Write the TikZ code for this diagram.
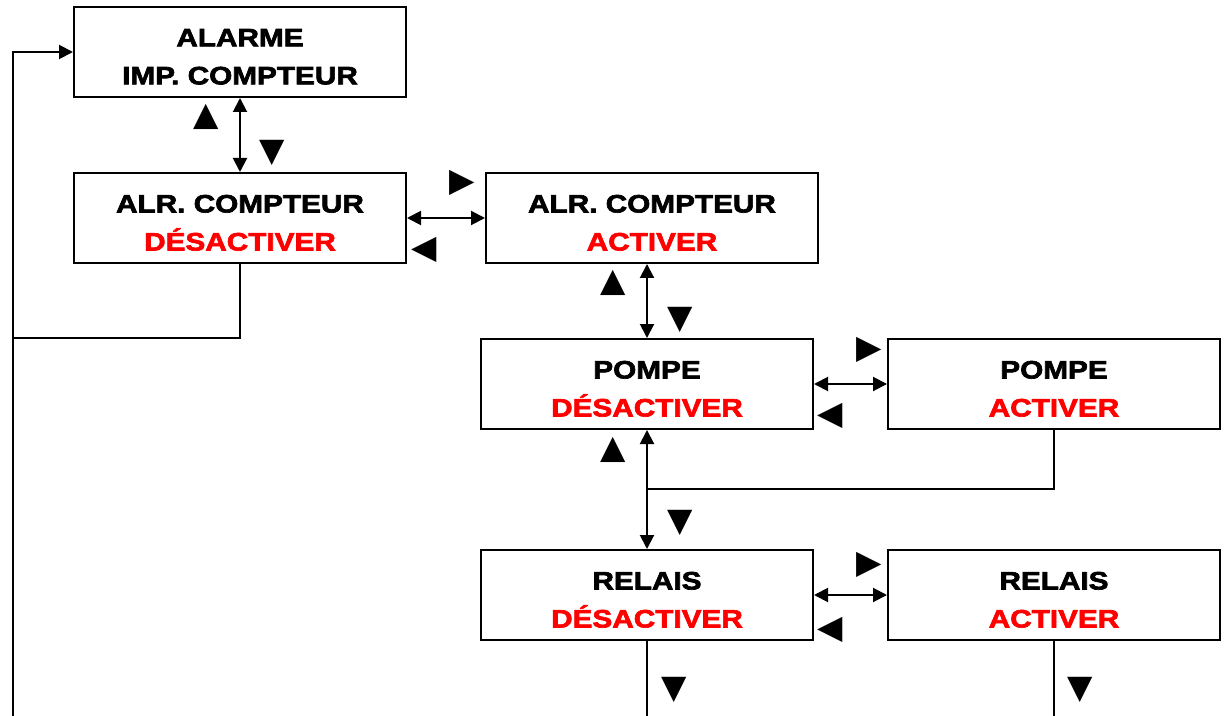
\documentclass[tikz,border=0pt]{standalone}
\usepackage{fontspec}
\setmainfont{Liberation Sans}[FakeStretch=1.18,BoldFeatures={FakeBold=2.6}]
\newfontfamily\symfont{DejaVu Sans}
\usetikzlibrary{arrows.meta,positioning,calc}
\definecolor{AlertRed}{HTML}{FF0000}

\begin{document}
\begin{tikzpicture}[
  x=0.5pt,y=-0.5pt,
  menu/.style={draw=black,line width=1pt,minimum width=166pt,minimum height=45pt,inner sep=0pt},
  menutext/.style={align=center,font=\bfseries\fontsize{12.6}{19}\selectfont,inner sep=0pt,yshift=-2.4pt},
  link/.style={line width=1pt,draw=black},
  arr/.style={link,-{Triangle[length=7pt,width=7pt]}},
  dbl/.style={link,{Triangle[length=7pt,width=7pt]}-{Triangle[length=7pt,width=7pt]}},
  key/.style={font=\symfont\fontsize{16.5}{16.5}\selectfont,inner sep=0pt}
]
\useasboundingbox (0,0) rectangle (1229,716);
\node[menu,label={[menutext]center:{ALARME\\IMP. COMPTEUR}}] (alarme) at (240,52) {};
\node[menu,label={[menutext]center:{ALR. COMPTEUR\\\textcolor{AlertRed}{DÉSACTIVER}}}] (alroff) at (240,218) {};
\node[menu,label={[menutext]center:{ALR. COMPTEUR\\\textcolor{AlertRed}{ACTIVER}}}] (alron) at (652,218) {};
\node[menu,label={[menutext]center:{POMPE\\\textcolor{AlertRed}{DÉSACTIVER}}}] (pompeoff) at (647,384) {};
\node[menu,label={[menutext]center:{POMPE\\\textcolor{AlertRed}{ACTIVER}}}] (pompeon) at (1054,384) {};
\node[menu,label={[menutext]center:{RELAIS\\\textcolor{AlertRed}{DÉSACTIVER}}}] (relaisoff) at (647,595) {};
\node[menu,label={[menutext]center:{RELAIS\\\textcolor{AlertRed}{ACTIVER}}}] (relaison) at (1054,595) {};
% return path on the left
\coordinate (loopbot) at (13,716);
\coordinate (loopjoin) at (13,338);
\coordinate (pompejoin) at (647,489);
\coordinate (relaisout) at (647,716);
\coordinate (relaisonout) at (1054,716);
\draw[arr] (loopbot) |- (alarme.west);
\draw[link] (alroff.south) |- (loopjoin);
\draw[dbl] (alarme.south) -- (alroff.north);
\draw[dbl] (alroff.east) -- (alron.west);
\draw[dbl] (pompeoff.north |- alron.south) -- (pompeoff.north);
\draw[dbl] (pompeoff.east) -- (pompeon.west);
\draw[dbl] (pompeoff.south) -- (relaisoff.north);
\draw[link] (pompeon.south) |- (pompejoin);
\draw[dbl] (relaisoff.east) -- (relaison.west);
\draw[link] (relaisoff.south) -- (relaisout);
\draw[link] (relaison.south) -- (relaisonout);
% key hints
\node[key] (k1) at (206,117) {▲};
\node[key] (k2) at (272,153) {▼};
\node[key] (k3) at (462,183) {▶};
\node[key] (k4) at (424,250) {◀};
\node[key] (k5) at (613,283) {▲};
\node[key] (k6) at (680,320) {▼};
\node[key] (k7) at (869,350) {▶};
\node[key] (k8) at (830,416) {◀};
\node[key] (k9) at (613,450) {▲};
\node[key] (k10) at (680,523) {▼};
\node[key] (k11) at (869,565) {▶};
\node[key] (k12) at (830,630) {◀};
\node[key] (k13) at (674,690) {▼};
\node[key] (k14) at (1080,690) {▼};
\end{tikzpicture}
\end{document}
